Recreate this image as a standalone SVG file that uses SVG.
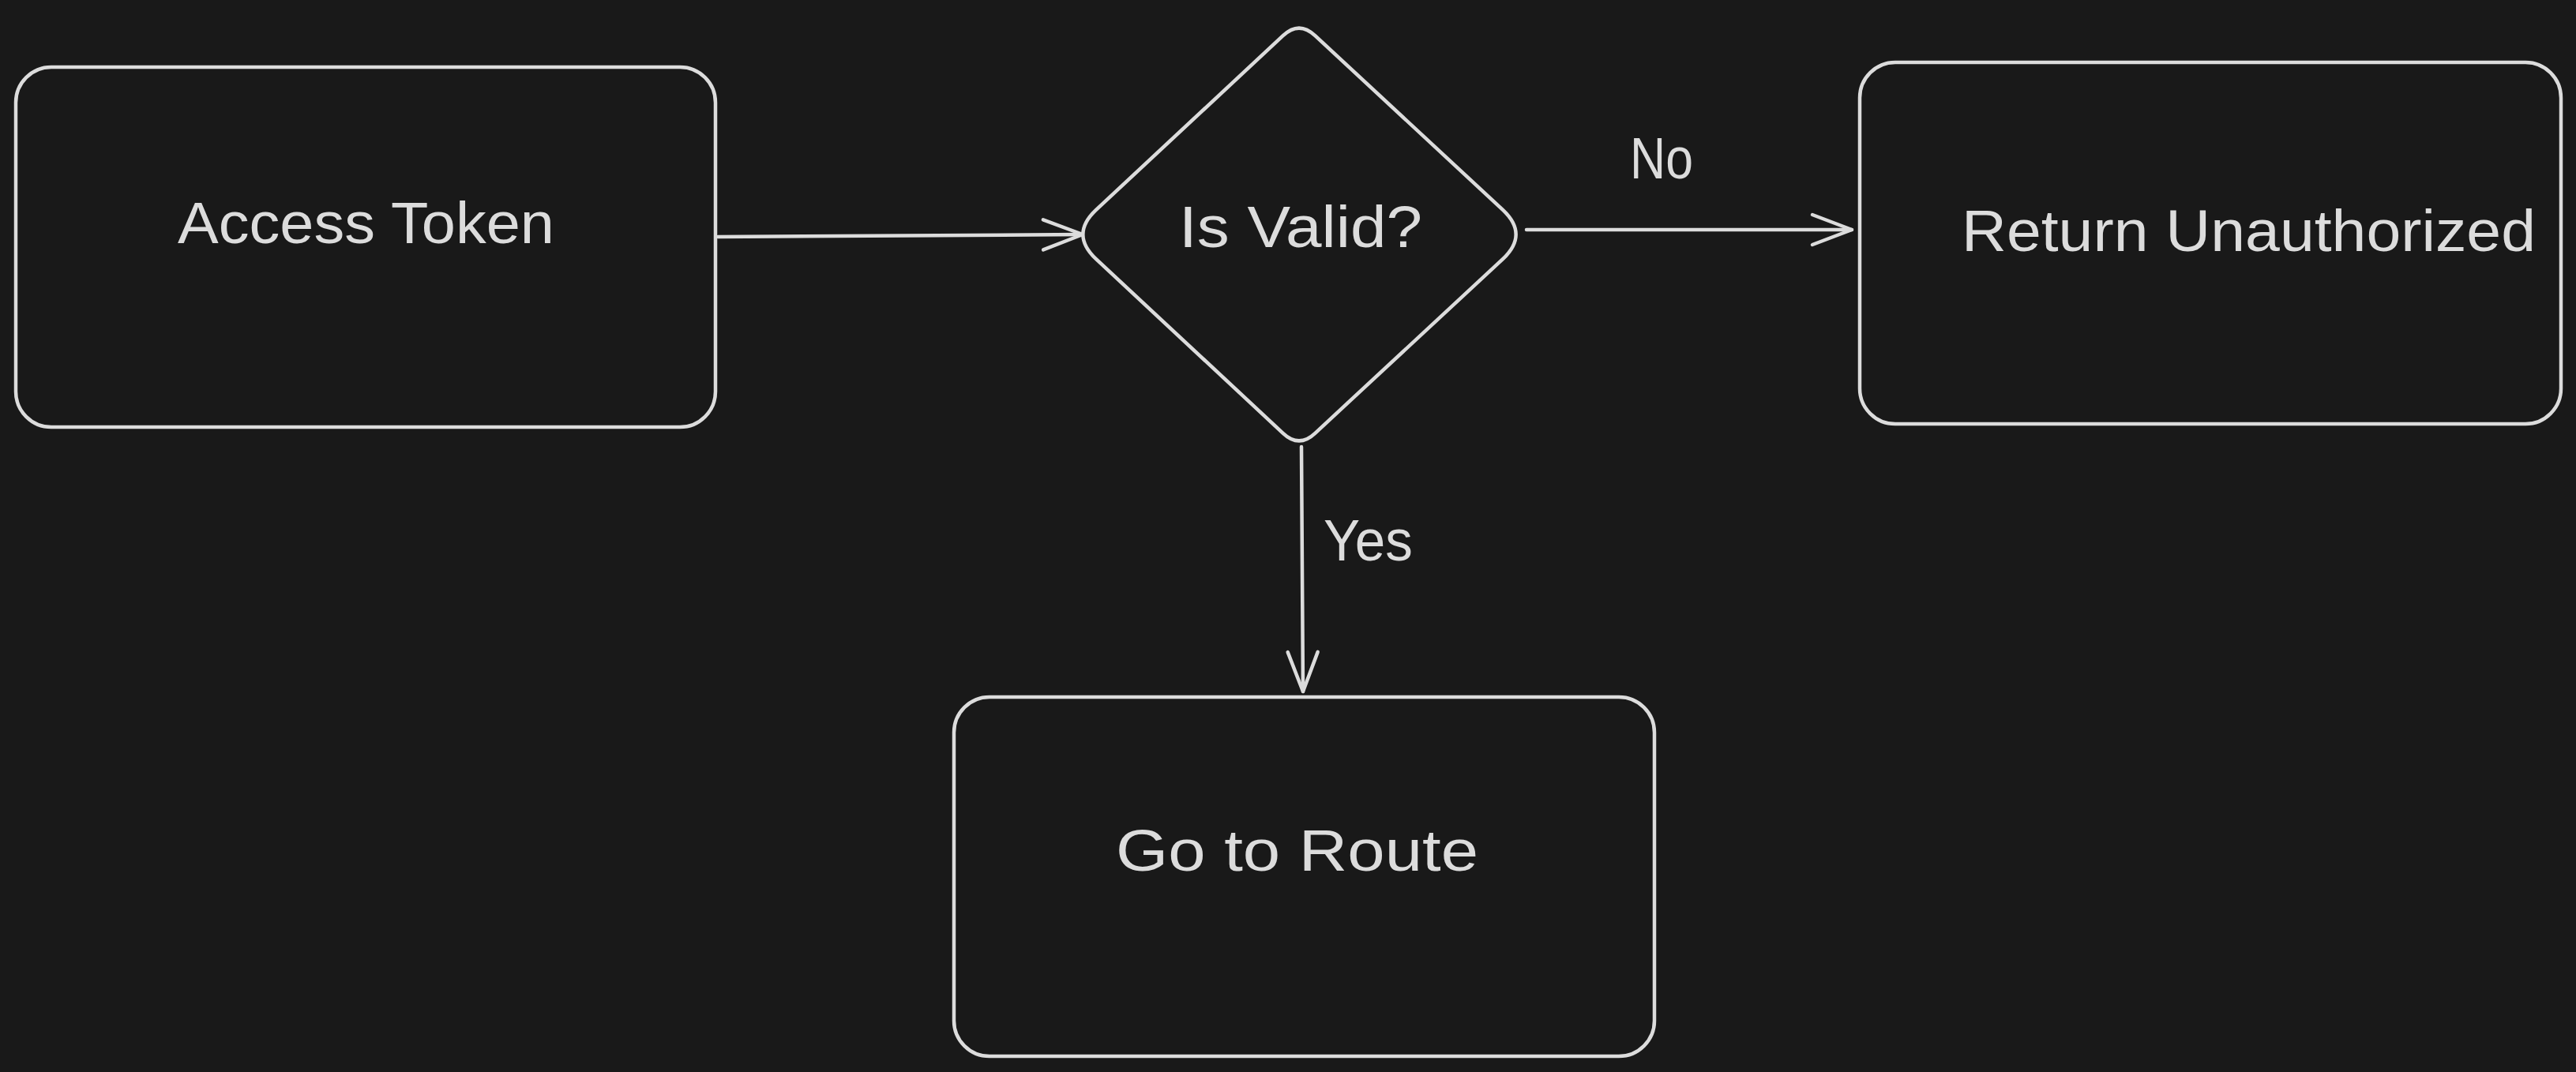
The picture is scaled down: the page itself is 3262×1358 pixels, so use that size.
<svg xmlns="http://www.w3.org/2000/svg" width="3262" height="1358" viewBox="0 0 3262 1358">
<style>
.shape{fill:#191919;stroke:#dcdcdc;stroke-width:4.5;stroke-linejoin:round}
.lbl{font-family:"Liberation Sans","Open Sans",sans-serif;font-size:74px;fill:#dcdcdc}
.conn{fill:none;stroke:#dcdcdc;stroke-width:4.5;stroke-linecap:round}
</style>
<defs>
<marker id="arrow" viewBox="-56 -26 62 52" markerWidth="62" markerHeight="52" markerUnits="userSpaceOnUse" refX="0" refY="0" orient="auto">
<path d="M-50,-19 L0,0 L-50,19" fill="none" stroke="#dcdcdc" stroke-width="4.5" stroke-linecap="round" stroke-linejoin="round"/>
</marker>
</defs>
<rect width="3262" height="1358" fill="#191919"/>
<g id="connectors">
<path class="conn" d="M909,300 L1371,297" marker-end="url(#arrow)"/>
<path class="conn" d="M1933,291 L2345,291" marker-end="url(#arrow)"/>
<path class="conn" d="M1648,566 L1650,876" marker-end="url(#arrow)"/>
<text class="lbl" x="2064" y="226" textLength="80" lengthAdjust="spacingAndGlyphs">No</text>
<text class="lbl" x="1676" y="710" textLength="113" lengthAdjust="spacingAndGlyphs">Yes</text>
</g>
<g id="access-token">
<rect class="shape" x="20" y="85" width="886" height="456" rx="45" ry="45"/>
<text class="lbl" x="225" y="308" textLength="477" lengthAdjust="spacingAndGlyphs">Access Token</text>
</g>
<g id="is-valid">
<path class="shape" d="M1624.7,45.2 Q1645,26 1665.3,45.2 L1903.3,266.1 Q1936,297 1903.3,327.9 L1665.3,548.8 Q1645,568 1624.7,548.8 L1387.7,327.9 Q1355,297 1387.7,266.1 Z"/>
<text class="lbl" x="1493" y="313" textLength="308" lengthAdjust="spacingAndGlyphs">Is Valid?</text>
</g>
<g id="return-unauthorized">
<rect class="shape" x="2355" y="79" width="888" height="458" rx="45" ry="45"/>
<text class="lbl" x="2484" y="318" textLength="727" lengthAdjust="spacingAndGlyphs">Return Unauthorized</text>
</g>
<g id="go-to-route">
<rect class="shape" x="1208" y="883" width="887" height="455" rx="45" ry="45"/>
<text class="lbl" x="1413" y="1103" textLength="459" lengthAdjust="spacingAndGlyphs">Go to Route</text>
</g>
</svg>
